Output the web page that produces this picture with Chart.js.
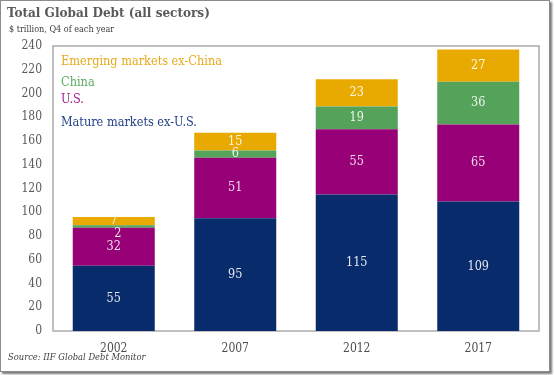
<!DOCTYPE html>
<html>
<head>
<meta charset="utf-8">
<script src="https://cdn.jsdelivr.net/npm/chart.js@4/dist/chart.umd.min.js"></script>
<style>
  html, body { margin: 0; padding: 0; background: #fff; }
  #wrap { position: relative; width: 554px; height: 375px; }
  #frame { position: absolute; left: 0; top: 0; width: 548px; height: 370px;
           border: 1px solid #8c8c8c; box-shadow: 2px 2px 2px #777; pointer-events: none; }
  canvas { position: absolute; left: 0; top: 0; }
</style>
</head>
<body>
<div id="wrap">
  <canvas id="myChart" width="554" height="375"></canvas>
  <div id="frame"></div>
</div>
<script>
// values, $ trillion
const years = ['2002', '2007', '2012', '2017'];
const matureExUS = [55, 95, 115, 109];
const us = [32, 51, 55, 65];
const china = [2, 6, 19, 36];
const emergingExChina = [7, 15, 23, 27];
const yTicks = [0, 20, 40, 60, 80, 100, 120, 140, 160, 180, 200, 220, 240];

const FONT = '"DejaVu Serif Condensed", "DejaVu Serif", serif';

// title, subtitle, source and the in-plot legend
const textPlugin = {
    id: 'texts',
    afterDraw(chart) {
        const ctx = chart.ctx;
        const area = chart.chartArea;
        ctx.save();
        ctx.textBaseline = 'middle';
        ctx.textAlign = 'left';

        ctx.fillStyle = '#595959';
        ctx.font = 'bold 13.4px ' + FONT;
        ctx.fillText('Total Global Debt (all sectors)', 7, 14);

        ctx.fillStyle = '#404040';
        ctx.font = '9px ' + FONT;
        ctx.fillText('$ trillion, Q4 of each year', 9, 30);

        ctx.font = 'italic 9.3px ' + FONT;
        ctx.fillText('Source: IIF Global Debt Monitor', 8, 358);

        // legend, top item is the top of the stack
        const offsets = [16, 37, 54, 77];
        const ds = chart.data.datasets.slice().reverse();
        ctx.font = '12.6px ' + FONT;
        ds.forEach((d, i) => {
            ctx.fillStyle = d.legendColor;
            ctx.fillText(d.label, area.left + 8, area.top + offsets[i]);
        });
        ctx.restore();
    }
};

// frame around the plot area
const framePlugin = {
    id: 'plotFrame',
    beforeDatasetsDraw(chart) {
        const a = chart.chartArea;
        const ctx = chart.ctx;
        ctx.save();
        ctx.strokeStyle = '#ababab';
        ctx.lineWidth = 1.5;
        ctx.strokeRect(a.left, a.top, a.right - a.left, a.bottom - a.top);
        ctx.restore();
    }
};

// value labels inside the segments
const valueLabels = {
    id: 'valueLabels',
    afterDatasetsDraw(chart) {
        const ctx = chart.ctx;
        ctx.save();
        ctx.font = '12.5px ' + FONT;
        ctx.textAlign = 'center';
        ctx.textBaseline = 'middle';
        chart.data.datasets.forEach((d, di) => {
            const meta = chart.getDatasetMeta(di);
            meta.data.forEach((bar, i) => {
                const p = bar.getProps(['x', 'y', 'base'], true);
                const v = d.data[i];
                let x = p.x, y = (p.y + p.base) / 2;
                if (v < 4) { x += 4; y = p.base + 6; }
                ctx.fillStyle = d.labelColor;
                ctx.fillText(String(v), x, y);
            });
        });
        ctx.restore();
    }
};

const ctx = document.getElementById('myChart').getContext('2d');
const myChart = new Chart(ctx, {
    type: 'bar',
    data: {
        labels: years,
        datasets: [
            { label: 'Mature markets ex-U.S.', data: matureExUS, backgroundColor: '#082b6b', legendColor: '#23408a', labelColor: '#e6e8f0' },
            { label: 'U.S.', data: us, backgroundColor: '#970077', legendColor: '#a1208f', labelColor: '#f3dcef' },
            { label: 'China', data: china, backgroundColor: '#55a35a', legendColor: '#5aaa5f', labelColor: '#eef6ee' },
            { label: 'Emerging markets ex-China', data: emergingExChina, backgroundColor: '#e8a900', legendColor: '#e6a91a', labelColor: '#fff8e6' }
        ]
    },
    options: {
        responsive: false,
        animation: false,
        devicePixelRatio: 1,
        layout: { padding: { left: 7, top: 46, right: 15, bottom: 0 } },
        datasets: { bar: { categoryPercentage: 1, barPercentage: 0.675, borderWidth: 0 } },
        plugins: {
            legend: { display: false },
            tooltip: { enabled: false }
        },
        scales: {
            x: {
                stacked: true,
                grid: { display: false, drawTicks: false },
                border: { display: false },
                ticks: { color: '#4d4d4d', font: { family: FONT, size: 12 }, padding: 11 },
                afterFit(scale) { scale.height = 44; }
            },
            y: {
                stacked: true,
                min: 0,
                max: 240,
                grid: { display: false, drawTicks: false },
                border: { display: false },
                afterBuildTicks(scale) { scale.ticks = yTicks.map(v => ({ value: v })); },
                ticks: { color: '#595959', font: { family: FONT, size: 12 }, padding: 11 },
                afterFit(scale) { scale.width = 46; }
            }
        }
    },
    plugins: [framePlugin, valueLabels, textPlugin]
});
</script>
</body>
</html>
